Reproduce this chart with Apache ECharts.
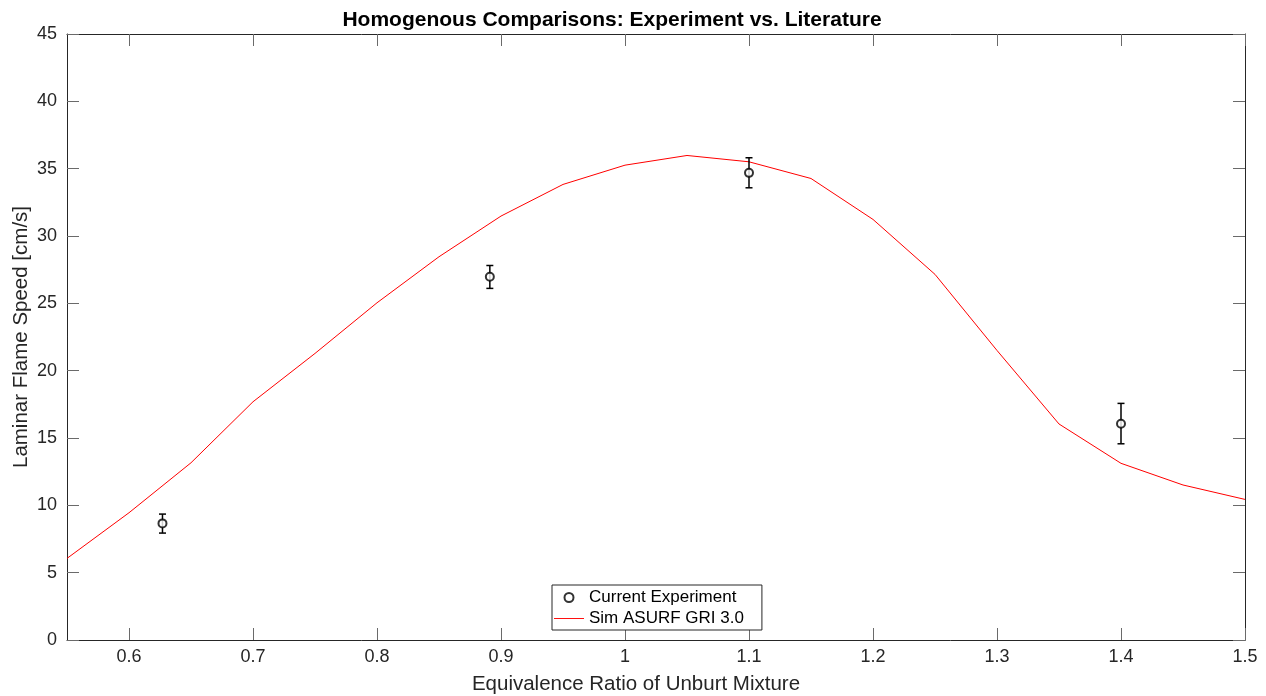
<!DOCTYPE html>
<html>
<head>
<meta charset="utf-8">
<script src="https://cdn.jsdelivr.net/npm/echarts@6/dist/echarts.min.js"></script>
<style>html,body{margin:0;padding:0;background:#fff}#c{width:1266px;height:696px}</style>
</head>
<body>
<div id="c"></div>
<script>
// Experimental data (equivalence ratio, flame speed, error bar low/high)
const expX = [0.627, 0.891, 1.1, 1.4];
const expY = [8.66, 26.97, 34.69, 16.06];
const expLow = [7.94, 26.11, 33.58, 14.57];
const expHigh = [9.35, 27.81, 35.81, 17.57];

// Simulation ASURF GRI 3.0
const simX = [0.55, 0.6, 0.65, 0.7, 0.75, 0.8, 0.85, 0.9, 0.95, 1.0, 1.05, 1.1, 1.15, 1.2, 1.25, 1.3, 1.35, 1.4, 1.45, 1.5];
const simY = [6.06, 9.45, 13.16, 17.69, 21.28, 25.04, 28.46, 31.48, 33.83, 35.26, 35.98, 35.51, 34.27, 31.23, 27.15, 21.5, 16.04, 13.12, 11.51, 10.44];

const xTicks = [0.6, 0.7, 0.8, 0.9, 1.0, 1.1, 1.2, 1.3, 1.4, 1.5];
const yTicks = [0, 5, 10, 15, 20, 25, 30, 35, 40, 45];

const FONT = "'Liberation Sans', Arial, Helvetica, sans-serif";
const AX = '#262626';
const TICK = '#6a6a6a';

const chart = echarts.init(document.getElementById('c'));

const errData = expX.map((x, i) => [x, expY[i], expLow[i], expHigh[i]]);
const expData = expX.map((x, i) => [x, expY[i]]);
const simData = simX.map((x, i) => [x, simY[i]]);

function xAxisBase(pos, showLabel) {
  return {
    type: 'value', position: pos, min: 0.55, max: 1.5,
    axisLine: { show: true, onZero: false, lineStyle: { color: AX, width: 1 } },
    axisTick: { show: true, inside: true, length: 12, customValues: xTicks, lineStyle: { color: TICK, width: 1 } },
    axisLabel: { show: showLabel, customValues: xTicks, color: AX, fontSize: 18, fontFamily: FONT, margin: 8 },
    splitLine: { show: false }
  };
}
function yAxisBase(pos, showLabel) {
  return {
    type: 'value', position: pos, min: 0, max: 45, interval: 5,
    axisLine: { show: true, onZero: false, lineStyle: { color: AX, width: 1 } },
    axisTick: { show: true, inside: true, length: 12, customValues: yTicks, lineStyle: { color: TICK, width: 1 } },
    axisLabel: { show: showLabel, customValues: yTicks, color: AX, fontSize: 18, fontFamily: FONT, margin: 10 },
    splitLine: { show: false }
  };
}

const xb = xAxisBase('bottom', true);
xb.name = 'Equivalence Ratio of Unburt Mixture';
xb.nameLocation = 'middle';
xb.nameGap = 34;
xb.nameMoveOverlap = false;
xb.nameTextStyle = { color: AX, fontSize: 20.5, fontFamily: FONT, padding: [0, 40, 0, 0] };
const xt = xAxisBase('top', false);

const yl = yAxisBase('left', true);
yl.name = 'Laminar Flame Speed [cm/s]';
yl.nameLocation = 'middle';
yl.nameGap = 35;
yl.nameMoveOverlap = false;
yl.nameTextStyle = { color: AX, fontSize: 20.5, fontFamily: FONT };
const yr = yAxisBase('right', false);

chart.setOption({
  backgroundColor: '#fff',
  animation: false,
  title: {
    text: 'Homogenous Comparisons: Experiment vs. Literature',
    left: 607, top: 5, textAlign: 'center',
    textStyle: { fontSize: 21, fontWeight: 'bold', color: '#000', fontFamily: FONT }
  },
  grid: { left: 67, right: 21, top: 34, bottom: 56, containLabel: false, outerBoundsMode: 'none' },
  xAxis: [xb, xt],
  yAxis: [yl, yr],
  legend: {
    orient: 'vertical', left: 552, top: 585,
    padding: [4, 18, 3, 2], itemGap: 4,
    itemWidth: 30, itemHeight: 9,
    backgroundColor: '#fff', borderColor: AX, borderWidth: 1, borderRadius: 0,
    textStyle: { fontSize: 17, color: '#000', fontFamily: FONT },
    data: [
      { name: 'Current Experiment' },
      { name: 'Sim ASURF GRI 3.0', icon: 'path://M0,0 L32,0 L32,1 L0,1 Z' }
    ]
  },
  series: [
    {
      type: 'line', name: 'Sim ASURF GRI 3.0', data: simData,
      xAxisIndex: 0, yAxisIndex: 0,
      symbol: 'none', lineStyle: { color: '#ff0000', width: 1 }, itemStyle: { color: '#ff0000' },
      z: 2
    },
    {
      type: 'custom', name: 'errorbars', data: errData,
      xAxisIndex: 0, yAxisIndex: 0,
      encode: { x: 0, y: [2, 3] },
      renderItem: function (params, api) {
        const x = api.value(0);
        const pHi = api.coord([x, api.value(3)]);
        const pLo = api.coord([x, api.value(2)]);
        const cap = 3.5;
        const st = { stroke: '#000', lineWidth: 1.5 };
        return {
          type: 'group',
          children: [
            { type: 'line', shape: { x1: pHi[0], y1: pHi[1], x2: pLo[0], y2: pLo[1] }, style: st },
            { type: 'line', shape: { x1: pHi[0] - cap, y1: pHi[1], x2: pHi[0] + cap, y2: pHi[1] }, style: st },
            { type: 'line', shape: { x1: pLo[0] - cap, y1: pLo[1], x2: pLo[0] + cap, y2: pLo[1] }, style: st }
          ]
        };
      },
      z: 3
    },
    {
      type: 'scatter', name: 'Current Experiment', data: expData,
      xAxisIndex: 0, yAxisIndex: 0,
      symbol: 'circle', symbolSize: 8,
      itemStyle: { color: '#fff', borderColor: '#000', borderWidth: 2 },
      z: 4
    }
  ]
});
</script>
</body>
</html>
